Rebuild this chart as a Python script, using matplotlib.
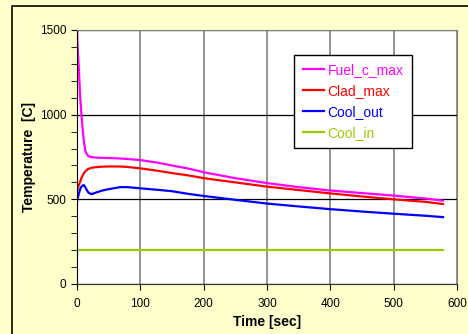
import matplotlib.pyplot as plt
from matplotlib.patches import Rectangle
from matplotlib.ticker import MultipleLocator

# values
time = [0, 1, 3, 5, 7, 9, 11, 13, 15, 18, 22, 25, 30, 40, 50, 68, 80, 100,
        125, 150, 178, 200, 250, 300, 350, 400, 450, 500, 550, 578]
fuel_c_max = [1500, 1400, 1265, 1105, 1000, 910, 840, 790, 770, 755, 750, 748, 747, 745, 744, 741, 738, 732,
              718, 700, 680, 660, 625, 596, 572, 552, 537, 522, 505, 492]
clad_max = [545, 565, 585, 605, 625, 642, 655, 665, 672, 680, 685, 688, 690, 693, 694, 694, 691, 683,
            670, 655, 640, 625, 600, 575, 555, 535, 517, 500, 485, 472]
cool_out = [486, 505, 535, 560, 575, 582, 584, 572, 558, 540, 531, 533, 540, 552, 560, 572, 572, 565,
            557, 548, 531, 520, 497, 475, 458, 442, 428, 415, 403, 395]
cool_in = [200] * len(time)

series = [
    ('Fuel_c_max', fuel_c_max, '#FF00FF'),
    ('Clad_max', clad_max, '#FF0000'),
    ('Cool_out', cool_out, '#0000FF'),
    ('Cool_in', cool_in, '#99CC00'),
]

plt.rcParams['font.family'] = ['Liberation Sans', 'DejaVu Sans']

fig = plt.figure(figsize=(4.68, 3.34), dpi=100, facecolor='#FFFFCC')
# chart-area frame (cropped on the right and bottom)
fig.patches.append(Rectangle((12 / 468, -0.1), 1.2, 1 - 6 / 334 + 0.1, transform=fig.transFigure,
                             fill=False, edgecolor='black', linewidth=1.2))

ax = fig.add_axes([77 / 468, 1 - 284 / 334, 380 / 468, 254 / 334])
ax.set_facecolor('white')

for label, vals, color in series:
    ax.plot(time, vals, color=color, linewidth=1.6, label=label)

ax.set_xlim(0, 600)
ax.set_ylim(0, 1500)
ax.set_xticks(range(0, 601, 100))
ax.set_yticks([0, 500, 1000, 1500])
ax.yaxis.set_minor_locator(MultipleLocator(100))

ax.grid(True, axis='x', color='#808080', linewidth=1.2)
ax.grid(True, axis='y', color='black', linewidth=0.9)
ax.set_axisbelow(True)

for side in ['top', 'right']:
    ax.spines[side].set_color('#808080')
ax.spines['left'].set_color('black')
ax.spines['bottom'].set_color('#333333')

ax.tick_params(axis='both', which='major', direction='out', length=4, labelsize=8.5, colors='black')
ax.tick_params(axis='y', which='minor', direction='out', length=4)
ax.tick_params(axis='x', pad=6)

ax.set_xlabel('Time [sec]', fontsize=10, fontweight='bold', labelpad=4)
ax.set_ylabel('Temperature  [C]', fontsize=10, fontweight='bold', labelpad=3)

leg = ax.legend(loc='upper left', bbox_to_anchor=(0.572, 0.902), fontsize=10, frameon=True,
                fancybox=False, edgecolor='black', framealpha=1, handlelength=1.5,
                handletextpad=0.3, labelspacing=0.5, borderpad=0.6, borderaxespad=0)
leg.get_frame().set_linewidth(1.0)
for text, (_, _, color) in zip(leg.get_texts(), series):
    text.set_color(color)

fig.savefig('out.png', dpi=100, facecolor=fig.get_facecolor())
